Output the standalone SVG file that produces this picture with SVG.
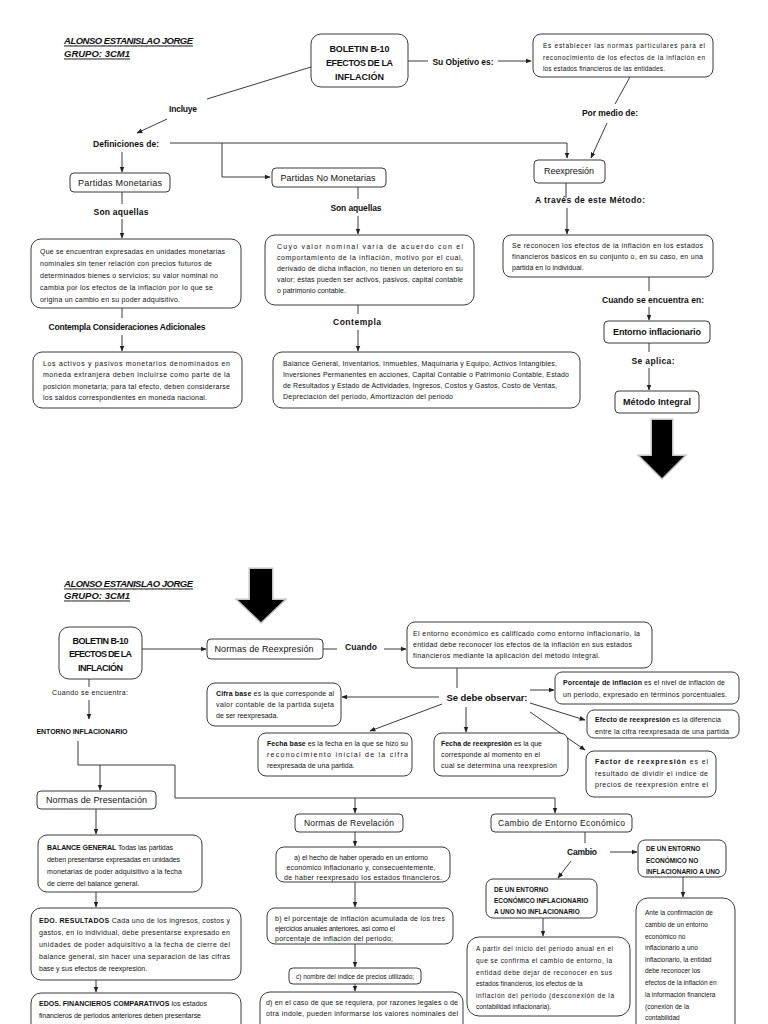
<svg xmlns="http://www.w3.org/2000/svg" width="768" height="1024" viewBox="0 0 768 1024">
<defs>
<style>
text{font-family:"Liberation Sans",Arial,sans-serif;fill:#111;dominant-baseline:central}
.s{font-size:7px}
.t{font-size:6.5px}
.l{font-size:8.5px;font-weight:bold;text-anchor:middle}
.n{font-size:9px;font-weight:bold;text-anchor:middle}
.u{font-size:6.5px;font-weight:bold}
.h{font-size:9.5px;font-weight:bold;font-style:italic;text-decoration:underline}
.bx{fill:#fff;stroke:#3a3a3a;stroke-width:1}
.ln{fill:none;stroke:#3a3a3a;stroke-width:1}
.ar{fill:none;stroke:#3a3a3a;stroke-width:1;marker-end:url(#a)}
.big{fill:#000;stroke:#c4c4c4;stroke-width:3;paint-order:stroke fill;stroke-linejoin:miter}
</style>
<marker id="a" viewBox="0 0 10 10" refX="9" refY="5" markerWidth="6" markerHeight="6" markerUnits="userSpaceOnUse" orient="auto"><path d="M0,1 L10,5 L0,9 z" fill="#222"/></marker>
</defs>
<rect width="768" height="1024" fill="#fff"/>

<g id="header1">
<text class="h" x="64" y="40" textLength="129">ALONSO ESTANISLAO JORGE</text>
<text class="h" x="64" y="53" textLength="66">GRUPO: 3CM1</text>
</g>
<g id="header2">
<text class="h" x="64" y="583" textLength="129">ALONSO ESTANISLAO JORGE</text>
<text class="h" x="64" y="595" textLength="66">GRUPO: 3CM1</text>
</g>

<g id="connectors">
<line class="ln" x1="311" y1="67" x2="207" y2="99"/>
<line class="ar" x1="167" y1="119" x2="137" y2="133"/>
<polyline class="ar" points="170,143 567,143 567,158"/>
<polyline class="ar" points="222,143 222,177 270,177"/>
<line class="ar" x1="122" y1="152" x2="122" y2="172"/>
<line class="ln" x1="408" y1="61" x2="428" y2="61"/>
<line class="ar" x1="498" y1="61" x2="531" y2="61"/>
<line class="ln" x1="630" y1="77" x2="615" y2="104"/>
<line class="ar" x1="607" y1="123" x2="591" y2="158"/>
<line class="ln" x1="566" y1="183" x2="566" y2="198"/>
<line class="ar" x1="567" y1="208" x2="567" y2="234"/>
<line class="ln" x1="649" y1="277" x2="649" y2="291"/>
<line class="ar" x1="649" y1="307" x2="649" y2="320"/>
<line class="ln" x1="649" y1="343" x2="649" y2="352"/>
<line class="ar" x1="649" y1="368" x2="649" y2="390"/>
<line class="ln" x1="122" y1="192" x2="122" y2="204"/>
<line class="ar" x1="122" y1="219" x2="122" y2="238"/>
<line class="ln" x1="122" y1="308" x2="122" y2="318"/>
<line class="ar" x1="122" y1="335" x2="122" y2="351"/>
<line class="ln" x1="358" y1="187" x2="358" y2="199"/>
<line class="ar" x1="358" y1="216" x2="358" y2="234"/>
<line class="ln" x1="358" y1="305" x2="358" y2="314"/>
<line class="ar" x1="358" y1="330" x2="358" y2="351"/>
<polygon class="big" points="652,420 672,420 672,456 684,456 662,478 640,456 652,456"/>
<polygon class="big" points="250,569 272,569 272,600 284,600 261,622 238,600 250,600"/>
<line class="ar" x1="142" y1="649" x2="206" y2="649"/>
<line class="ln" x1="323" y1="649" x2="337" y2="649"/>
<line class="ar" x1="384" y1="649" x2="406" y2="649"/>
<line class="ln" x1="457" y1="668" x2="457" y2="688"/>
<line class="ar" x1="439" y1="697" x2="342" y2="697"/>
<line class="ar" x1="442" y1="704" x2="370" y2="731"/>
<line class="ar" x1="466" y1="707" x2="466" y2="732"/>
<line class="ar" x1="530" y1="690" x2="554" y2="690"/>
<line class="ar" x1="530" y1="703" x2="585" y2="720"/>
<line class="ar" x1="530" y1="712" x2="585" y2="750"/>
<line class="ln" x1="89" y1="679" x2="89" y2="687"/>
<line class="ar" x1="89" y1="700" x2="89" y2="719"/>
<polyline class="ar" points="78,741 78,765 175,765 175,798 555,798 555,813"/>
<line class="ar" x1="100" y1="765" x2="100" y2="790"/>
<line class="ar" x1="355" y1="798" x2="355" y2="813"/>
<line class="ar" x1="96" y1="809" x2="96" y2="834"/>
<line class="ar" x1="96" y1="892" x2="96" y2="907"/>
<line class="ar" x1="96" y1="980" x2="96" y2="992"/>
<line class="ar" x1="355" y1="832" x2="355" y2="846"/>
<line class="ar" x1="355" y1="882" x2="355" y2="907"/>
<line class="ar" x1="355" y1="944" x2="355" y2="967"/>
<line class="ar" x1="355" y1="984" x2="355" y2="991"/>
<line class="ln" x1="585" y1="832" x2="585" y2="843"/>
<line class="ar" x1="610" y1="852" x2="637" y2="852"/>
<line class="ar" x1="571" y1="861" x2="558" y2="878"/>
<line class="ar" x1="683" y1="877" x2="683" y2="897"/>
<line class="ar" x1="543" y1="918" x2="543" y2="936"/>
</g>

<g id="edge-labels">
<text class="l" x="183" y="109" textLength="28">Incluye</text>
<text class="l" x="126" y="144" textLength="66">Definiciones de:</text>
<text class="l" x="463" y="62" textLength="61">Su Objetivo es:</text>
<text class="l" x="610" y="113" textLength="56">Por medio de:</text>
<text class="l" x="590" y="200" textLength="110">A través de este Método:</text>
<text class="l" x="653" y="300" textLength="102">Cuando se encuentra en:</text>
<text class="l" x="653" y="361" textLength="43">Se aplica:</text>
<text class="l" x="121" y="212" textLength="55">Son aquellas</text>
<text class="l" x="127" y="327" textLength="157">Contempla Consideraciones Adicionales</text>
<text class="l" x="356" y="208" textLength="51">Son aquellas</text>
<text class="l" x="357" y="322" textLength="48">Contempla</text>
<text class="l" x="361" y="647" textLength="32">Cuando</text>
<text class="l" x="487" y="697" style="font-size:9.5px" textLength="81">Se debe observar:</text>
<text class="s" x="90" y="692" text-anchor="middle" textLength="76">Cuando se encuentra:</text>
<text class="s" x="82" y="731" text-anchor="middle" font-weight="bold" textLength="91">ENTORNO INFLACIONARIO</text>
<text class="l" x="582" y="852" textLength="30">Cambio</text>
</g>

<g id="n-boletin1">
<rect class="bx" x="311" y="34" width="97" height="53" rx="10"/>
<text class="n" x="359.5" y="49" textLength="60">BOLETIN B-10</text>
<text class="n" x="359.5" y="63" textLength="67">EFECTOS DE LA</text>
<text class="n" x="359.5" y="77" textLength="49">INFLACIÓN</text>
</g>
<g id="n-objetivo">
<rect class="bx" x="533" y="34" width="180" height="43" rx="8"/>
<text class="t" x="543" y="45" textLength="162">Es establecer las normas particulares para el</text>
<text class="t" x="543" y="57" textLength="162">reconocimiento de los efectos de la inflación en</text>
<text class="t" x="543" y="68" textLength="122">los estados financieros de las entidades.</text>
</g>
<g id="n-pm">
<rect class="bx" x="70" y="173" width="100" height="19" rx="4"/>
<text class="n" x="120" y="183" style="font-weight:normal" textLength="84">Partidas Monetarias</text>
</g>
<g id="n-pnm">
<rect class="bx" x="272" y="168" width="114" height="19" rx="4"/>
<text class="n" x="328" y="178" style="font-weight:normal" textLength="95">Partidas No Monetarias</text>
</g>
<g id="n-reexpresion">
<rect class="bx" x="534" y="160" width="71" height="23" rx="4"/>
<text class="n" x="569" y="171" style="font-weight:normal" textLength="50">Reexpresión</text>
</g>
<g id="n-sereconocen">
<rect class="bx" x="503" y="235" width="210" height="42" rx="8"/>
<text class="s" x="512" y="245" textLength="191">Se reconocen los efectos de la inflación en los estados</text>
<text class="s" x="512" y="256" textLength="191">financieros básicos en su conjunto o, en su caso, en una</text>
<text class="s" x="512" y="267">partida en lo individual.</text>
</g>
<g id="n-entorno">
<rect class="bx" x="604" y="321" width="106" height="22" rx="4"/>
<text class="n" x="657" y="332" textLength="88">Entorno inflacionario</text>
</g>
<g id="n-metodo">
<rect class="bx" x="615" y="391" width="84" height="22" rx="4"/>
<text class="n" x="657" y="402" textLength="68">Método Integral</text>
</g>
<g id="n-queseencuentran">
<rect class="bx" x="31" y="239" width="210" height="69" rx="10"/>
<text class="s" x="40" y="251" textLength="185">Que se encuentran expresadas en unidades monetarias</text>
<text class="s" x="40" y="263" textLength="172">nominales sin tener relación con precios futuros de</text>
<text class="s" x="40" y="275" textLength="178">determinados bienes o servicios; su valor nominal no</text>
<text class="s" x="40" y="287" textLength="173">cambia por los efectos de la inflación por lo que se</text>
<text class="s" x="40" y="299" textLength="140">origina un cambio en su poder adquisitivo.</text>
</g>
<g id="n-losactivos">
<rect class="bx" x="33" y="352" width="209" height="56" rx="9"/>
<text class="s" x="43" y="363" textLength="187">Los activos y pasivos monetarios denominados en</text>
<text class="s" x="43" y="374" textLength="187">moneda extranjera deben incluirse como parte de la</text>
<text class="s" x="43" y="386" textLength="187">posición monetaria; para tal efecto, deben considerarse</text>
<text class="s" x="43" y="397" textLength="164">los saldos correspondientes en moneda nacional.</text>
</g>
<g id="n-cuyovalor">
<rect class="bx" x="265" y="235" width="209" height="70" rx="10"/>
<text class="s" x="277" y="246" textLength="186">Cuyo valor nominal varía de acuerdo con el</text>
<text class="s" x="277" y="257" textLength="186">comportamiento de la inflación, motivo por el cual,</text>
<text class="s" x="277" y="268" textLength="186">derivado de dicha inflación, no tienen un deterioro en su</text>
<text class="s" x="277" y="279" textLength="186">valor; éstas pueden ser activos, pasivos, capital contable</text>
<text class="s" x="277" y="290">o patrimonio contable.</text>
</g>
<g id="n-balance1">
<rect class="bx" x="273" y="352" width="307" height="56" rx="9"/>
<text class="s" x="283" y="363" textLength="274">Balance General, Inventarios, Inmuebles, Maquinaria y Equipo, Activos Intangibles,</text>
<text class="s" x="283" y="374" textLength="286">Inversiones Permanentes en acciones, Capital Contable o Patrimonio Contable, Estado</text>
<text class="s" x="283" y="385" textLength="274">de Resultados y Estado de Actividades, Ingresos, Costos y Gastos, Costo de Ventas,</text>
<text class="s" x="283" y="396" textLength="170">Depreciación del periodo, Amortización del periodo</text>
</g>

<g id="n-boletin2">
<rect class="bx" x="59" y="627" width="83" height="52" rx="10"/>
<text class="n" x="100.5" y="641" textLength="56">BOLETIN B-10</text>
<text class="n" x="100.5" y="654" textLength="63">EFECTOS DE LA</text>
<text class="n" x="100.5" y="668" textLength="45">INFLACIÓN</text>
</g>
<g id="n-normasreexp">
<rect class="bx" x="207" y="639" width="116" height="20" rx="4"/>
<text class="n" x="264" y="649" style="font-weight:normal" textLength="99">Normas de Reexpresión</text>
</g>
<g id="n-elentorno">
<rect class="bx" x="407" y="622" width="245" height="46" rx="8"/>
<text class="s" x="413" y="633" textLength="227">El entorno económico es calificado como entorno inflacionario, la</text>
<text class="s" x="413" y="644" textLength="219">entidad debe reconocer los efectos de la inflación en sus estados</text>
<text class="s" x="413" y="655" textLength="187">financieros mediante la aplicación del método integral.</text>
</g>
<g id="n-cifrabase">
<rect class="bx" x="207" y="683" width="134" height="43" rx="8"/>
<text class="s" x="216" y="693" textLength="118"><tspan font-weight="bold">Cifra base</tspan> es la que corresponde al</text>
<text class="s" x="216" y="704" textLength="118">valor contable de la partida sujeta</text>
<text class="s" x="216" y="715">de ser reexpresada.</text>
</g>
<g id="n-fechabase">
<rect class="bx" x="258" y="733" width="154" height="43" rx="8"/>
<text class="s" x="267" y="743" textLength="141"><tspan font-weight="bold">Fecha base</tspan> es la fecha en la que se hizo su</text>
<text class="s" x="267" y="754" textLength="141">reconocimiento inicial de la cifra</text>
<text class="s" x="267" y="765">reexpresada de una partida.</text>
</g>
<g id="n-fechareexp">
<rect class="bx" x="434" y="733" width="134" height="43" rx="8"/>
<text class="s" x="441" y="743" textLength="101"><tspan font-weight="bold">Fecha de reexpresión</tspan> es la que</text>
<text class="s" x="441" y="754" textLength="99">corresponde al momento en el</text>
<text class="s" x="441" y="765" textLength="116">cual se determina una reexpresión</text>
</g>
<g id="n-porcentaje">
<rect class="bx" x="555" y="672" width="184" height="32" rx="7"/>
<text class="s" x="563" y="682" textLength="162"><tspan font-weight="bold">Porcentaje de inflación</tspan> es el nivel de inflación de</text>
<text class="s" x="563" y="694" textLength="164">un periodo, expresado en términos porcentuales.</text>
</g>
<g id="n-efecto">
<rect class="bx" x="587" y="710" width="152" height="28" rx="7"/>
<text class="s" x="595" y="719" textLength="126"><tspan font-weight="bold">Efecto de reexpresión</tspan> es la diferencia</text>
<text class="s" x="595" y="731" textLength="134">entre la cifra reexpresada de una partida</text>
</g>
<g id="n-factor">
<rect class="bx" x="586" y="751" width="130" height="46" rx="8"/>
<text class="s" x="595" y="761" textLength="113"><tspan font-weight="bold">Factor de reexpresión</tspan> es el</text>
<text class="s" x="595" y="773" textLength="113">resultado de dividir el índice de</text>
<text class="s" x="595" y="784" textLength="113">precios de reexpresión entre el</text>
</g>
<g id="n-normaspres">
<rect class="bx" x="37" y="791" width="119" height="18" rx="4"/>
<text class="n" x="96.5" y="800" style="font-weight:normal" textLength="101">Normas de Presentación</text>
</g>
<g id="n-normasrev">
<rect class="bx" x="295" y="814" width="108" height="18" rx="4"/>
<text class="n" x="349" y="823" style="font-weight:normal;font-size:8.5px" textLength="90">Normas de Revelación</text>
</g>
<g id="n-cambio">
<rect class="bx" x="491" y="814" width="141" height="18" rx="4"/>
<text class="n" x="561.5" y="823" style="font-weight:normal;font-size:8.5px" textLength="127">Cambio de Entorno Económico</text>
</g>
<g id="n-balancegeneral">
<rect class="bx" x="38" y="835" width="164" height="57" rx="9"/>
<text class="s" x="47" y="847" textLength="126"><tspan font-weight="bold">BALANCE GENERAL</tspan> Todas las partidas</text>
<text class="s" x="47" y="859" textLength="133">deben presentarse expresadas en unidades</text>
<text class="s" x="47" y="871" textLength="135">monetarias de poder adquisitivo a la fecha</text>
<text class="s" x="47" y="883">de cierre del balance general.</text>
</g>
<g id="n-edoresultados">
<rect class="bx" x="31" y="908" width="210" height="72" rx="10"/>
<text class="s" x="39" y="920" textLength="191"><tspan font-weight="bold">EDO. RESULTADOS</tspan> Cada uno de los ingresos, costos y</text>
<text class="s" x="39" y="932" textLength="191">gastos, en lo individual, debe presentarse expresado en</text>
<text class="s" x="39" y="944" textLength="191">unidades de poder adquisitivo a la fecha de cierre del</text>
<text class="s" x="39" y="956" textLength="191">balance general, sin hacer una separación de las cifras</text>
<text class="s" x="39" y="968">base y sus efectos de reexpresión.</text>
</g>
<g id="n-edosfin">
<rect class="bx" x="31" y="993" width="210" height="45" rx="10"/>
<text class="s" x="39" y="1003" textLength="168"><tspan font-weight="bold">EDOS. FINANCIEROS COMPARATIVOS</tspan>  los estados</text>
<text class="s" x="39" y="1015" textLength="162">financieros de periodos anteriores deben presentarse</text>
</g>
<g id="n-a">
<rect class="bx" x="276" y="847" width="174" height="35" rx="8"/>
<text class="s" x="361" y="857" text-anchor="middle" textLength="134">a) el hecho de haber operado en un entorno</text>
<text class="s" x="361" y="867" text-anchor="middle" textLength="149">económico inflacionario y, consecuentemente,</text>
<text class="s" x="363" y="877" text-anchor="middle" textLength="158">de haber reexpresado los estados financieros.</text>
</g>
<g id="n-b">
<rect class="bx" x="267" y="908" width="186" height="36" rx="8"/>
<text class="s" x="275" y="918" textLength="170">b) el porcentaje de inflación acumulada de los tres</text>
<text class="s" x="275" y="928" textLength="120">ejercicios anuales anteriores, así como el</text>
<text class="s" x="275" y="938" textLength="118">porcentaje de inflación del periodo;</text>
</g>
<g id="n-c">
<rect class="bx" x="289" y="968" width="132" height="16" rx="4"/>
<text class="t" x="355" y="976" text-anchor="middle">c) nombre del índice de precios utilizado;</text>
</g>
<g id="n-d">
<rect class="bx" x="260" y="992" width="203" height="45" rx="10"/>
<text class="s" x="266" y="1002" textLength="192">d) en el caso de que se requiera, por razones legales o de</text>
<text class="s" x="266" y="1013" textLength="192">otra índole, pueden informarse los valores nominales del</text>
</g>
<g id="n-noinfl">
<rect class="bx" x="638" y="840" width="88" height="37" rx="7"/>
<text class="u" x="646" y="848">DE UN ENTORNO</text>
<text class="u" x="646" y="860">ECONÓMICO NO</text>
<text class="u" x="646" y="871">INFLACIONARIO A UNO</text>
</g>
<g id="n-ante">
<rect class="bx" x="636" y="898" width="99" height="140" rx="12"/>
<text class="t" x="645" y="912">Ante la confirmación de</text>
<text class="t" x="645" y="924">cambio de un entorno</text>
<text class="t" x="645" y="936">económico no</text>
<text class="t" x="645" y="947">inflacionario a uno</text>
<text class="t" x="645" y="959">inflacionario, la entidad</text>
<text class="t" x="645" y="970">debe reconocer los</text>
<text class="t" x="645" y="982">efectos de la inflación en</text>
<text class="t" x="645" y="994">la información financiera</text>
<text class="t" x="645" y="1006">(conexión de la</text>
<text class="t" x="645" y="1017">contabilidad</text>
</g>
<g id="n-infl">
<rect class="bx" x="486" y="879" width="111" height="39" rx="7"/>
<text class="u" x="494" y="889">DE UN ENTORNO</text>
<text class="u" x="494" y="900">ECONÓMICO INFLACIONARIO</text>
<text class="u" x="494" y="911">A UNO NO INFLACIONARIO</text>
</g>
<g id="n-apartir">
<rect class="bx" x="467" y="937" width="163" height="79" rx="12"/>
<text class="t" x="476" y="948" textLength="137">A partir del inicio del periodo anual en el</text>
<text class="t" x="476" y="960" textLength="136">que se confirma el cambio de entorno, la</text>
<text class="t" x="476" y="972" textLength="136">entidad debe dejar de reconocer en sus</text>
<text class="t" x="476" y="983">estados financieros, los efectos de la</text>
<text class="t" x="476" y="995" textLength="138">inflación del periodo (desconexión de la</text>
<text class="t" x="476" y="1006">contabilidad inflacionaria).</text>
</g>
</svg>
